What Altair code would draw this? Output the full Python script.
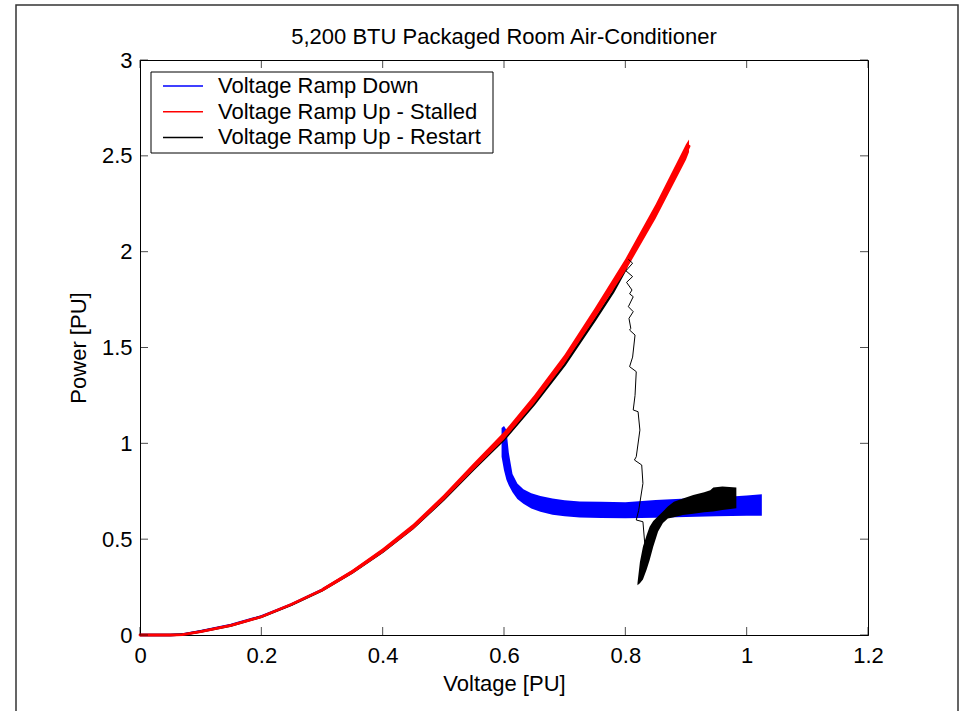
import altair as alt
import pandas as pd

FONT = "Liberation Sans"

# ---------------- data ----------------
# Voltage Ramp Down (blue): part along the stalled curve, then the band after the spike
blue_v = [0.0, 0.05, 0.07, 0.10, 0.15, 0.20, 0.25, 0.30, 0.35, 0.40, 0.45, 0.50, 0.55, 0.598]
blue_p = [0.0, 0.0, 0.003, 0.020, 0.052, 0.097, 0.160, 0.236, 0.330, 0.438, 0.562, 0.712, 0.875, 1.030]

blue_band_v = [0.596, 0.600, 0.604, 0.608, 0.614, 0.622, 0.632, 0.645, 0.660, 0.680, 0.700,
               0.725, 0.760, 0.800, 0.850, 0.900, 0.950, 1.000, 1.025]
blue_band_hi = [1.08, 1.09, 1.07, 0.95, 0.84, 0.79, 0.76, 0.74, 0.725, 0.712, 0.703,
                0.697, 0.695, 0.693, 0.705, 0.712, 0.718, 0.728, 0.735]
blue_band_lo = [0.93, 0.86, 0.81, 0.78, 0.745, 0.71, 0.685, 0.66, 0.643, 0.628, 0.620,
                0.613, 0.610, 0.609, 0.612, 0.616, 0.620, 0.622, 0.622]

# Voltage Ramp Up - Stalled (red)
red_v = [0.0, 0.05, 0.07, 0.10, 0.15, 0.20, 0.25, 0.30, 0.35, 0.40, 0.45, 0.50, 0.55,
         0.60, 0.65, 0.70, 0.75, 0.80, 0.85, 0.90, 0.905]
red_p = [0.0, 0.0, 0.002, 0.018, 0.050, 0.095, 0.160, 0.235, 0.330, 0.440, 0.565, 0.715, 0.880,
         1.040, 1.230, 1.440, 1.680, 1.930, 2.210, 2.520, 2.550]
# spread of the red trace (oscillation envelope) on its upper part
red_band_v = [0.30, 0.35, 0.40, 0.45, 0.50, 0.55, 0.60, 0.65, 0.70, 0.75, 0.80, 0.85, 0.90, 0.905]
red_band_hi = [0.244, 0.341, 0.452, 0.579, 0.730, 0.898, 1.060, 1.252, 1.463, 1.707, 1.962,
               2.247, 2.561, 2.585]
red_band_lo = [0.226, 0.319, 0.428, 0.551, 0.700, 0.862, 1.020, 1.208, 1.417, 1.653, 1.898,
               2.173, 2.479, 2.520]

# Voltage Ramp Up - Restart (black): along the curve, the drop, and the recovery band
black_v = [0.0, 0.05, 0.07, 0.10, 0.15, 0.20, 0.25, 0.30, 0.35, 0.40, 0.45, 0.50, 0.55,
           0.60, 0.65, 0.70, 0.75, 0.78, 0.80, 0.805]
black_p = [0.0, 0.0, 0.002, 0.018, 0.050, 0.095, 0.158, 0.233, 0.327, 0.435, 0.558, 0.705, 0.865,
           1.020, 1.205, 1.410, 1.645, 1.790, 1.905, 1.960]

drop_v = [0.805, 0.812, 0.801, 0.812, 0.802, 0.811, 0.807, 0.813, 0.805, 0.813, 0.806, 0.809,
          0.807, 0.816, 0.812, 0.807, 0.818, 0.816, 0.813, 0.821, 0.824, 0.818, 0.815, 0.827,
          0.829, 0.822, 0.818, 0.829, 0.832, 0.826, 0.822]
drop_p = [1.960, 1.940, 1.900, 1.870, 1.840, 1.800, 1.780, 1.765, 1.713, 1.687, 1.652, 1.600,
          1.591, 1.565, 1.450, 1.400, 1.374, 1.250, 1.174, 1.165, 1.069, 0.930, 0.913, 0.887,
          0.791, 0.650, 0.600, 0.591, 0.478, 0.360, 0.270]

black_band_v = [0.820, 0.824, 0.829, 0.835, 0.840, 0.846, 0.854, 0.862, 0.870, 0.880, 0.895,
                0.912, 0.930, 0.940, 0.945, 0.960, 0.983]
black_band_hi = [0.27, 0.38, 0.46, 0.52, 0.565, 0.595, 0.62, 0.645, 0.67, 0.695, 0.712,
                 0.73, 0.745, 0.755, 0.77, 0.775, 0.77]
black_band_lo = [0.26, 0.27, 0.29, 0.34, 0.39, 0.46, 0.54, 0.585, 0.608, 0.615, 0.626,
                 0.632, 0.64, 0.643, 0.645, 0.652, 0.661]

series_names = ["Voltage Ramp Down", "Voltage Ramp Up - Stalled", "Voltage Ramp Up - Restart"]
series_colors = ["#0000ff", "#ff0000", "#000000"]

x_ticks = [0, 0.2, 0.4, 0.6, 0.8, 1, 1.2]
y_ticks = [0, 0.5, 1, 1.5, 2, 2.5, 3]

title_text = "5,200 BTU Packaged Room Air-Conditioner"
x_title = "Voltage [PU]"
y_title = "Power [PU]"

# ---------------- chart ----------------
W, H = 728, 575

xs = alt.Scale(domain=[0, 1.2], nice=False, zero=False)
ys = alt.Scale(domain=[0, 3], nice=False, zero=False)

common_axis = dict(
    ticks=False, grid=False, labelOverlap=False,
    domainColor="black", domainWidth=1,
    labelFont=FONT, labelFontSize=22, labelColor="black", labelFontWeight="normal",
    titleFont=FONT, titleFontSize=22, titleFontWeight="normal", titleColor="black",
)
xaxis = alt.Axis(values=x_ticks, format="~g", title=x_title, labelFlush=False,
                 labelPadding=10, titleX=W / 2, titleY=55, titleBaseline="alphabetic",
                 titleAlign="center", **common_axis)
yaxis = alt.Axis(values=y_ticks, format="~g", title=y_title, labelPadding=8,
                 titleX=-62, titleY=H / 2, titleAngle=270, titleBaseline="middle",
                 titleAlign="center", **common_axis)


def X(f):
    return alt.X(f, type="quantitative", scale=xs, axis=xaxis)


def Y(f):
    return alt.Y(f, type="quantitative", scale=ys, axis=yaxis)


df_blue = pd.DataFrame({"V": blue_v, "P": blue_p})
df_blue_band = pd.DataFrame({"V": blue_band_v, "hi": blue_band_hi, "lo": blue_band_lo})
df_red = pd.DataFrame({"V": red_v, "P": red_p})
df_red_band = pd.DataFrame({"V": red_band_v, "hi": red_band_hi, "lo": red_band_lo})
df_black = pd.DataFrame({"V": black_v, "P": black_p})
df_drop = pd.DataFrame({"V": drop_v, "P": drop_p, "i": list(range(len(drop_v)))})
df_black_band = pd.DataFrame({"V": black_band_v, "hi": black_band_hi, "lo": black_band_lo})

blue_line = alt.Chart(df_blue).mark_line(color=series_colors[0], strokeWidth=2.5).encode(
    x=X("V"), y=Y("P"))
blue_band = alt.Chart(df_blue_band).mark_area(color=series_colors[0], opacity=1).encode(
    x=X("V"), y=Y("hi"), y2="lo")
black_line = alt.Chart(df_black).mark_line(color=series_colors[2], strokeWidth=2.5).encode(
    x=X("V"), y=Y("P"))
red_line = alt.Chart(df_red).mark_line(color=series_colors[1], strokeWidth=2.8,
                                       strokeCap="round").encode(x=X("V"), y=Y("P"))
red_band = alt.Chart(df_red_band).mark_area(color=series_colors[1], opacity=1).encode(
    x=X("V"), y=Y("hi"), y2="lo")
drop_line = alt.Chart(df_drop).mark_line(color=series_colors[2], strokeWidth=1).encode(
    x=X("V"), y=Y("P"), order="i:Q")
black_band = alt.Chart(df_black_band).mark_area(color=series_colors[2], opacity=1).encode(
    x=X("V"), y=Y("hi"), y2="lo")

# inward ticks on all four sides
dfx = pd.DataFrame({"t": x_ticks})
dfy = pd.DataFrame({"t": y_ticks})
tk = dict(color="black", thickness=1, size=8)
t_bottom = alt.Chart(dfx).mark_tick(orient="vertical", yOffset=-4, **tk).encode(x=X("t"), y=alt.datum(0))
t_top = alt.Chart(dfx).mark_tick(orient="vertical", yOffset=4, **tk).encode(x=X("t"), y=alt.datum(3))
t_left = alt.Chart(dfy).mark_tick(orient="horizontal", xOffset=4, **tk).encode(x=alt.datum(0), y=Y("t"))
t_right = alt.Chart(dfy).mark_tick(orient="horizontal", xOffset=-4, **tk).encode(x=alt.datum(1.2), y=Y("t"))

# legend box
one = pd.DataFrame({"a": [0]})
leg_box = alt.Chart(one).mark_rect(fill="white", stroke="black", strokeWidth=1).encode(
    x=alt.value(11), x2=alt.value(353), y=alt.value(12), y2=alt.value(93))
leg_layers = [leg_box]
for i, (name, col) in enumerate(zip(series_names, series_colors)):
    yy = 26 + 25.7 * i
    leg_layers.append(alt.Chart(one).mark_rule(color=col, strokeWidth=1.5).encode(
        x=alt.value(23), x2=alt.value(63), y=alt.value(yy)))
    leg_layers.append(alt.Chart(one).mark_text(text=name, align="left", baseline="middle",
                                               font=FONT, fontSize=22, color="black").encode(
        x=alt.value(78), y=alt.value(yy)))

# outer figure frame
frame = alt.Chart(one).mark_rect(fill=None, stroke="#333333", strokeWidth=1.5).encode(
    x=alt.value(-124), x2=alt.value(818), y=alt.value(-55), y2=alt.value(680))

chart = alt.layer(
    frame, blue_line, blue_band, black_line, red_line, red_band, drop_line, black_band,
    t_bottom, t_top, t_left, t_right, *leg_layers
).properties(
    width=W, height=H,
    title=alt.TitleParams(title_text, font=FONT, fontSize=22, fontWeight="normal",
                          color="black", anchor="middle", baseline="alphabetic",
                          offset=0, dy=62),
    padding={"left": 140, "top": 60, "right": 91, "bottom": 76},
    autosize=alt.AutoSizeParams(type="none"),
    background="white",
).configure_view(
    stroke="black", strokeWidth=1
)

chart.save("out.html", embed_options={"renderer": "svg", "actions": False})
